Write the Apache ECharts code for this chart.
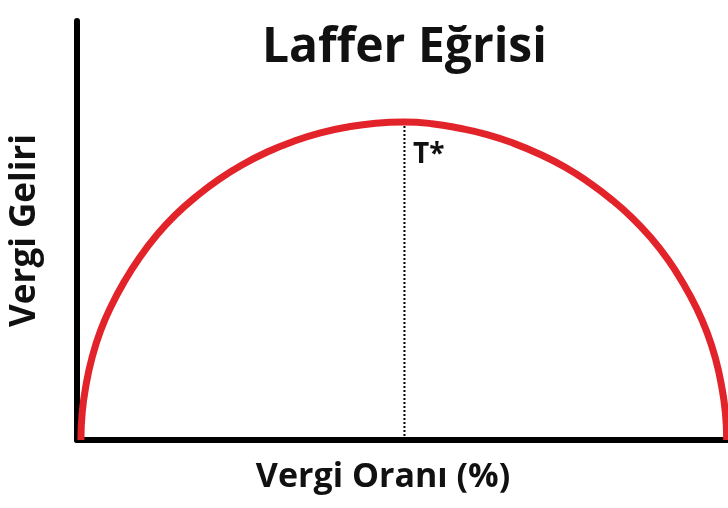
<!DOCTYPE html>
<html lang="tr">

<head>
  <meta charset="UTF-8" />
  <title>Laffer Eğrisi</title>
  <script src="https://cdn.jsdelivr.net/npm/echarts@6.0.0/dist/echarts.min.js"></script>
  <style>
    html, body {
      margin: 0;
      padding: 0;
      background: #fff;
    }

    #chart {
      width: 728px;
      height: 508px;
    }
  </style>
</head>

<body>
  <div id="chart"></div>

  <script>
    // Eğri noktaları (vergi oranı %, vergi geliri)
    const taxRate = [0.6, 0.8, 1.4, 2.3, 3.6, 5.3, 7.3, 9.6, 12.2, 15.1, 18.3, 21.8, 25.4,
      29.3, 33.3, 37.4, 41.6, 45.9, 50.2, 54.5, 58.8, 63.0, 67.1, 71.1, 75.0, 78.6,
      82.1, 85.3, 88.2, 90.8, 93.1, 95.1, 96.8, 98.1, 99.0, 99.6, 99.8];
    const revenue = [0, 6.6, 13.2, 19.6, 26.0, 32.1, 37.9, 43.5, 48.8, 53.7, 58.1, 62.2, 65.7,
      68.8, 71.3, 73.3, 74.7, 75.6, 75.9, 75.5, 74.4, 72.9, 70.8, 68.2, 65.1, 61.5,
      57.4, 53.0, 48.2, 43.0, 37.4, 31.7, 25.6, 19.3, 13.0, 6.5, 0];

    // T* noktası
    const tStar = 50.3;
    const peakRevenue = 75.9;
    const tStarLabel = [51.6, 68.0];

    const curve = taxRate.map((x, i) => [x, revenue[i]]);

    const chart = echarts.init(document.getElementById("chart"));

    const font = "'Open Sans', sans-serif";

    chart.setOption({
      animation: false,
      title: {
        text: "Laffer Eğrisi",
        left: 262,
        top: 24,
        padding: 0,
        textStyle: {
          fontFamily: font,
          fontWeight: "bold",
          fontSize: 48,
          color: "#111",
        },
      },
      grid: {
        left: 77,
        right: 0,
        top: 21,
        bottom: 68,
        containLabel: false,
        outerBoundsMode: "none",
      },
      xAxis: {
        type: "value",
        min: 0,
        max: 100,
        name: "Vergi Oranı (%)",
        nameLocation: "middle",
        nameGap: 20,
        nameTextStyle: {
          fontFamily: font,
          fontWeight: "bold",
          fontSize: 34,
          color: "#111",
          padding: [0, 39, 0, 0],
        },
        axisLine: { lineStyle: { color: "#000", width: 6 } },
        axisTick: { show: false },
        axisLabel: { show: false },
        splitLine: { show: false },
      },
      yAxis: {
        type: "value",
        min: 0,
        max: 100,
        name: "Vergi Geliri",
        nameLocation: "middle",
        nameRotate: 90,
        nameGap: 34,
        nameTextStyle: {
          fontFamily: font,
          fontWeight: "bold",
          fontSize: 35,
          color: "#111",
        },
        axisLine: { show: true, lineStyle: { color: "#000", width: 6 } },
        axisTick: { show: false },
        axisLabel: { show: false },
        splitLine: { show: false },
      },
      series: [
        {
          type: "line",
          data: [[tStar, 0], [tStar, peakRevenue]],
          symbol: "none",
          lineStyle: { color: "#000", width: 2, type: "dotted" },
          z: 1,
        },
        {
          type: "line",
          data: curve,
          smooth: 0.5,
          symbol: "none",
          clip: false,
          lineStyle: { color: "#e2232a", width: 7 },
          z: 3,
        },
        {
          type: "scatter",
          data: [tStarLabel],
          symbolSize: 0,
          itemStyle: { opacity: 1 },
          label: {
            show: true,
            position: "right",
            distance: 0,
            formatter: "T*",
            fontFamily: font,
            fontWeight: "bold",
            fontSize: 28,
            color: "#111",
            opacity: 1,
          },
        },
      ],
    });
  </script>
</body>

</html>
